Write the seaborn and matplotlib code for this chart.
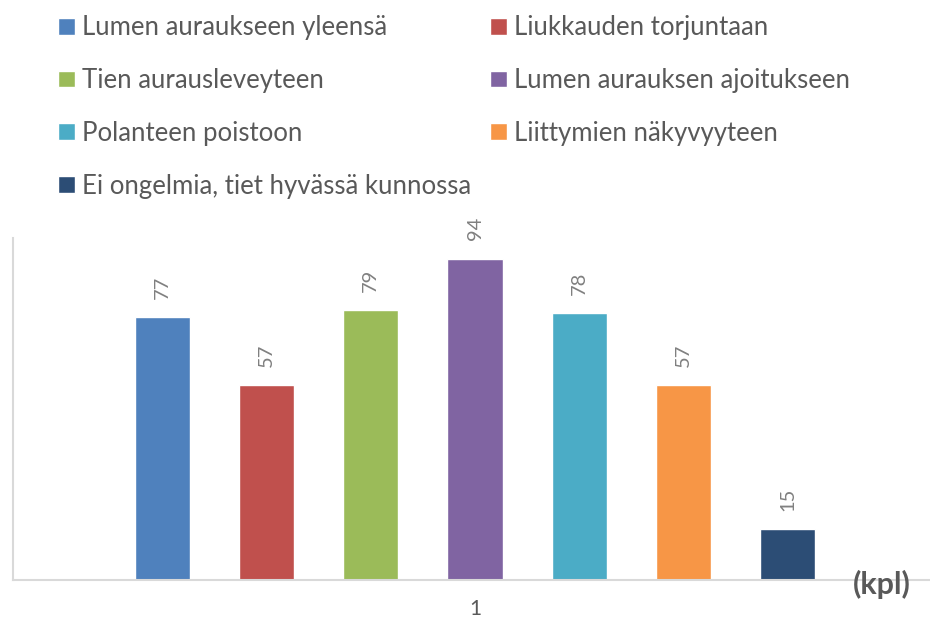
import matplotlib
matplotlib.use("Agg")
import matplotlib.pyplot as plt
import pandas as pd
import seaborn as sns

# Vastaukset (kpl)
categories = [
    "Lumen auraukseen yleensä",
    "Liukkauden torjuntaan",
    "Tien aurausleveyteen",
    "Lumen aurauksen ajoitukseen",
    "Polanteen poistoon",
    "Liittymien näkyvyyteen",
    "Ei ongelmia, tiet hyvässä kunnossa",
]
values = [77, 57, 79, 94, 78, 57, 15]
group_label = ["1"] * len(categories)
colors = ["#4F81BD", "#C0504D", "#9BBB59", "#8064A2", "#4BACC6", "#F79646", "#2C4D75"]

TEXT = "#595959"
sns.set_style("white")
plt.rcParams["font.family"] = ["Lato", "DejaVu Sans"]

df = pd.DataFrame({"ryhma": group_label, "vastaus": categories, "kpl": values})

fig = plt.figure(figsize=(9.3, 6.21), dpi=100)
ax = fig.add_axes([13 / 930, 41 / 621, 917 / 930, 342 / 621])

sns.barplot(
    data=df, x="ryhma", y="kpl", hue="vastaus", hue_order=categories,
    palette=colors, width=0.79, gap=0.47, saturation=1, ax=ax,
)

for cont in ax.containers:
    ax.bar_label(cont, rotation=90, padding=13, fontsize=14.5, color="#808080")

ax.set_xlim(-0.5, 0.5 - 7 / 924)
ax.set_ylim(0, 100)
ax.set_xlabel("")
ax.set_ylabel("")
ax.set_yticks([])
ax.tick_params(axis="x", length=0, pad=14, labelsize=15, labelcolor=TEXT)
for side in ["top", "right"]:
    ax.spines[side].set_visible(False)
for side in ["left", "bottom"]:
    ax.spines[side].set_color("#D9D9D9")
    ax.spines[side].set_linewidth(1.5)

# legenda kahteen sarakkeeseen, rivi kerrallaan
handles, labels = ax.get_legend_handles_labels()
ax.get_legend().remove()
order = [0, 2, 4, 6, 1, 3, 5]
fig.legend(
    [handles[i] for i in order], [labels[i] for i in order],
    ncol=2, loc="upper left", bbox_to_anchor=(48 / 930, 1 - 5 / 621),
    frameon=False, fontsize=18.5, labelcolor=TEXT,
    handlelength=0.64, handleheight=0.64, handletextpad=0.3,
    labelspacing=1.08, columnspacing=0.72, borderaxespad=0,
)

fig.text(882 / 930, 37 / 621, "(kpl)", ha="center", va="center",
         fontsize=22, fontweight="bold", color=TEXT)

fig.savefig("out.png", dpi=100)
